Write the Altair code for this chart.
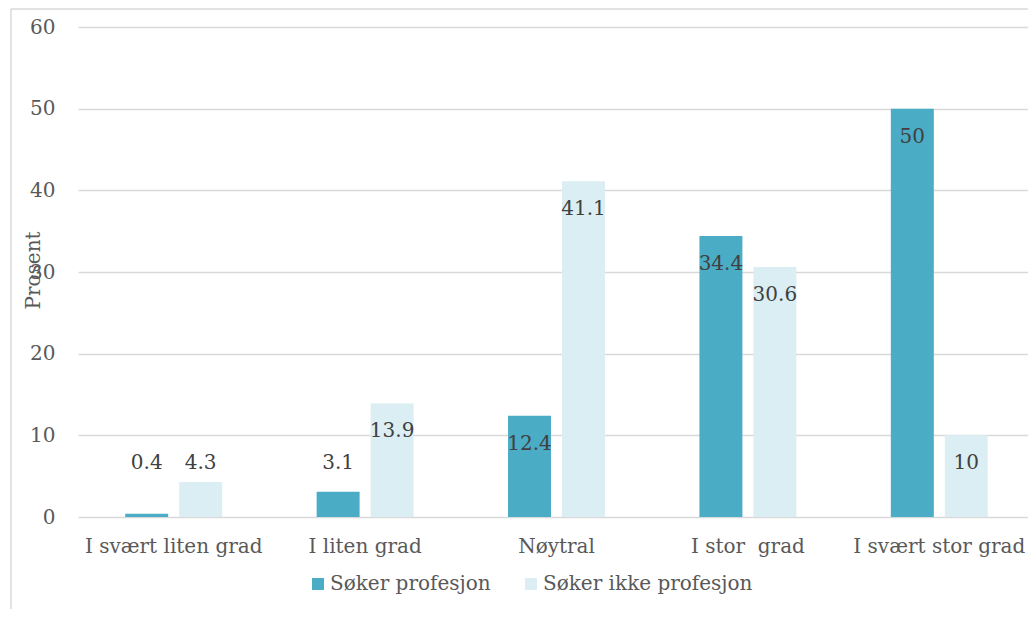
import altair as alt
import pandas as pd

categories = ["I svært liten grad", "I liten grad", "Nøytral", "I stor\u00a0 grad", "I svært stor grad"]
series = ["Søker profesjon", "Søker ikke profesjon"]
soker = [0.4, 3.1, 12.4, 34.4, 50]
ikke_soker = [4.3, 13.9, 41.1, 30.6, 10]
y_ticks = [0, 10, 20, 30, 40, 50, 60]
colors = ["#4BACC6", "#DAEEF3"]

rows = []
for c, a, b in zip(categories, soker, ikke_soker):
    rows.append({"kat": c, "serie": series[0], "v": a})
    rows.append({"kat": c, "serie": series[1], "v": b})
df = pd.DataFrame(rows)

FONT = "DejaVu Serif"
FS = 20
GRAY = "#595959"

x_enc = alt.X("kat:N", sort=categories, title=None,
              scale=alt.Scale(paddingInner=0, paddingOuter=0, range=[0, 957]),
              axis=alt.Axis(labelAngle=0, ticks=False, domain=False, grid=False, labelPadding=19,
                            labelFont=FONT, labelFontSize=FS, labelColor=GRAY, labelLimit=0))
xo_enc = alt.XOffset("serie:N", sort=series,
                     scale=alt.Scale(paddingInner=0.2037, paddingOuter=0.875))

base = alt.Chart(df)

bars = base.mark_bar().encode(
    x=x_enc,
    xOffset=xo_enc,
    y=alt.Y("v:Q", title="Prosent",
            scale=alt.Scale(domain=[0, 60], nice=False),
            axis=alt.Axis(values=y_ticks, ticks=False, domain=False, labelPadding=23,
                          gridColor="#D9D9D9", gridWidth=1.5,
                          labelFont=FONT, labelFontSize=FS, labelColor=GRAY,
                          titleFont=FONT, titleFontSize=FS, titleColor=GRAY, titleFontWeight="normal",
                          titleAngle=-90, titleX=-45, titleY=243, titleAlign="center",
                          titleBaseline="middle")),
    color=alt.Color("serie:N", sort=series,
                    scale=alt.Scale(domain=series, range=colors),
                    legend=alt.Legend(title=None, orient="none", legendX=230, legendY=547,
                                      direction="horizontal", symbolType="square",
                                      symbolSize=144, symbolStrokeWidth=0,
                                      labelFont=FONT, labelFontSize=FS, labelColor=GRAY,
                                      labelLimit=0, labelOffset=2, columnPadding=30)),
)

labels = base.transform_calculate(lab="max(datum.v, 10)").mark_text(
    font=FONT, fontSize=FS, color="#404040", baseline="middle", dy=28
).encode(
    x=alt.X("kat:N", sort=categories),
    xOffset=alt.XOffset("serie:N", sort=series),
    y=alt.Y("lab:Q"),
    text=alt.Text("v:Q"),
)

border_left = alt.Chart(pd.DataFrame({"a": [0]})).mark_rule(color="#D9D9D9", strokeWidth=1.5).encode(
    x=alt.value(-67), y=alt.value(-18), y2=alt.value(620))
border_top = alt.Chart(pd.DataFrame({"a": [0]})).mark_rule(color="#D9D9D9", strokeWidth=1.5).encode(
    x=alt.value(-67), x2=alt.value(960), y=alt.value(-18))

chart = alt.layer(bars, labels, border_left, border_top).properties(
    width=950, height=490,
    padding={"left": 70, "top": 19, "right": 0, "bottom": 92},
    autosize=alt.AutoSizeParams(type="none"),
    background="white",
).configure_view(stroke=None)

chart.save("out.html", embed_options={"renderer": "svg", "actions": False})
